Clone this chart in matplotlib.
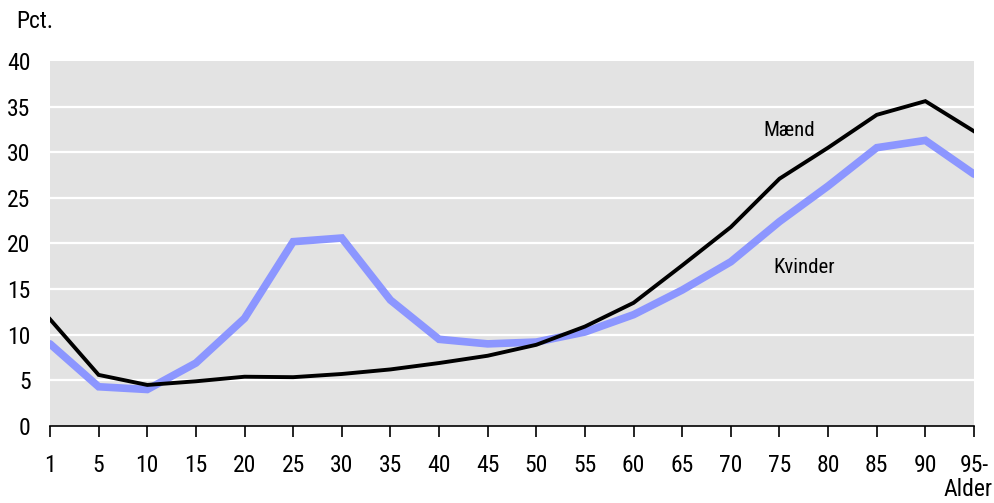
import matplotlib
matplotlib.use("Agg")
import matplotlib.pyplot as plt

ages = ["1", "5", "10", "15", "20", "25", "30", "35", "40", "45", "50",
        "55", "60", "65", "70", "75", "80", "85", "90", "95-"]
maend = [11.7, 5.6, 4.5, 4.9, 5.4, 5.35, 5.7, 6.2, 6.9, 7.7, 8.9,
         10.9, 13.5, 17.6, 21.8, 27.1, 30.5, 34.1, 35.6, 32.3]
kvinder = [9.0, 4.3, 4.0, 6.9, 11.8, 20.2, 20.6, 13.8, 9.5, 9.0, 9.2,
           10.3, 12.2, 14.9, 18.0, 22.4, 26.3, 30.5, 31.3, 27.6]
yticks = [0, 5, 10, 15, 20, 25, 30, 35, 40]

plt.rcParams['font.family'] = ['Roboto Condensed', 'Liberation Sans', 'DejaVu Sans']

W, H = 994, 503
fig = plt.figure(figsize=(W / 100, H / 100), dpi=100)
ax = fig.add_axes([50 / W, (H - 426) / H, (974 - 50) / W, (426 - 61) / H])
ax.set_facecolor('#e3e3e3')

x = list(range(len(ages)))
ax.plot(x, kvinder, color='#8c96ff', lw=5.5, solid_joinstyle='miter', solid_capstyle='round', zorder=3)
ax.plot(x, maend, color='black', lw=2.8, solid_joinstyle='miter', zorder=4)

ax.set_xlim(0, len(ages) - 1)
ax.set_ylim(0, 40)
ax.set_yticks(yticks)
ax.set_yticklabels([str(v) for v in yticks], fontsize=17)
ax.set_xticks(x)
ax.set_xticklabels(ages, fontsize=17)

for v in yticks[1:-1]:
    ax.axhline(v, color='white', lw=1.6, zorder=1)

for s in ['top', 'left', 'right']:
    ax.spines[s].set_visible(False)
ax.spines['bottom'].set_color('black')
ax.spines['bottom'].set_linewidth(1.2)
ax.spines['bottom'].set_zorder(5)
ax.tick_params(axis='y', length=0, pad=14)
ax.tick_params(axis='x', length=8, width=1.2, direction='out', pad=12)

ax.text(15.2, 32.4, "Mænd", fontsize=15, ha='center', va='center')
ax.text(15.5, 17.4, "Kvinder", fontsize=15, ha='center', va='center')

fig.text(16 / W, 1 - 21 / H, "Pct.", fontsize=17, ha='left', va='center')
fig.text(993 / W, 1 - 489 / H, "Alder", fontsize=17, ha='right', va='center')

fig.savefig("out.png", dpi=100)
